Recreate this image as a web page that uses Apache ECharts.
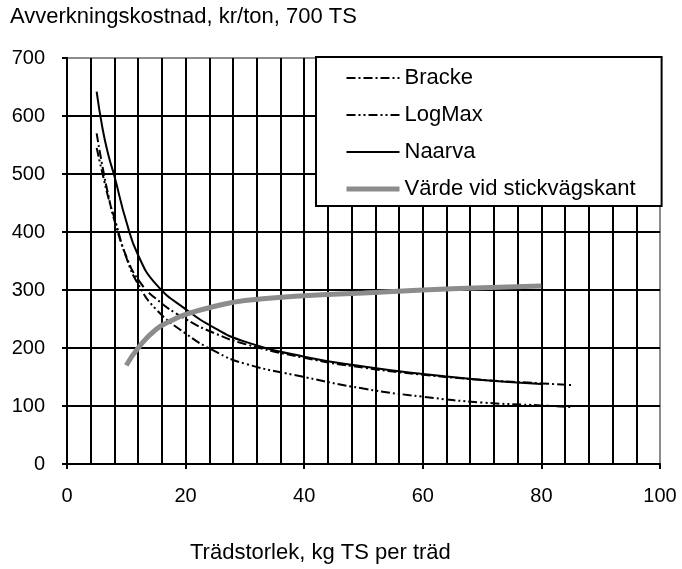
<!DOCTYPE html>
<html>
<head>
<meta charset="utf-8">
<script src="https://cdn.jsdelivr.net/npm/echarts@6/dist/echarts.min.js"></script>
<style>
  html, body { margin: 0; padding: 0; background: #fff; }
  #chart { width: 682px; height: 569px; }
</style>
</head>
<body>
<div id="chart"></div>
<script>
// trädstorlek (kg TS per träd) och kostnad (kr/ton)
var brackeX = [5, 6, 7, 8, 10, 12, 15, 20, 25, 30, 40, 50, 60, 70, 80, 85];
var brackeY = [570, 512, 462, 420, 358, 318, 285, 250, 225, 207, 183, 166, 154, 145, 139, 136];

var logmaxX = [5, 6, 7, 8, 10, 12, 15, 20, 25, 30, 40, 50, 60, 70, 80, 85];
var logmaxY = [545, 500, 458, 424, 356, 310, 267, 225, 194, 173, 150, 130, 116, 106, 101, 98];

var naarvaX = [5, 6, 7, 8, 10, 12, 15, 20, 25, 30, 40, 50, 60, 70, 80];
var naarvaY = [642, 578, 532, 496, 418, 360, 310, 267, 234, 211, 185, 168, 155, 145, 138];

var vardeX = [10, 12, 15, 18, 20, 25, 30, 40, 50, 60, 70, 80];
var vardeY = [170, 200, 232, 249, 258, 272, 282, 290, 295, 300, 304, 307];

var FONT = 'Liberation Sans, Arial, sans-serif';

function pairs(xs, ys) {
  var out = [];
  for (var i = 0; i < xs.length; i++) out.push([xs[i], ys[i]]);
  return out;
}

var chart = echarts.init(document.getElementById('chart'));

chart.setOption({
  backgroundColor: '#fff',
  animation: false,
  title: {
    text: 'Avverkningskostnad, kr/ton, 700 TS',
    left: 10,
    top: 6,
    padding: 0,
    textStyle: { fontFamily: FONT, fontSize: 22, fontWeight: 'normal', color: '#000' }
  },
  graphic: [{
    type: 'text',
    left: 190,
    top: 542,
    style: { text: 'Trädstorlek, kg TS per träd', font: '22px ' + FONT, fill: '#000' }
  }],
  legend: {
    orient: 'vertical',
    left: 316,
    top: 57,
    itemWidth: 53,
    itemHeight: 14,
    itemGap: 15,
    padding: [10, 26, 6, 28],
    borderColor: '#000',
    borderWidth: 2,
    borderRadius: 0,
    backgroundColor: '#fff',
    itemStyle: { opacity: 0 },
    textStyle: { fontFamily: FONT, fontSize: 22, color: '#000' },
    data: [
      { name: 'Bracke', lineStyle: { width: 2 } },
      { name: 'LogMax', lineStyle: { width: 2 } },
      { name: 'Naarva', lineStyle: { width: 2 } },
      { name: 'Värde vid stickvägskant', lineStyle: { width: 5 } }
    ]
  },
  grid: {
    left: 67,
    right: 22,
    top: 58,
    bottom: 105,
    show: true,
    borderColor: '#8c8c8c',
    borderWidth: 2
  },
  xAxis: {
    type: 'value',
    min: 0,
    max: 100,
    interval: 20,
    axisLine: { lineStyle: { color: '#000', width: 2 } },
    axisTick: { show: true, length: 5, lineStyle: { color: '#000', width: 2 } },
    axisLabel: { fontFamily: FONT, fontSize: 20, color: '#000', margin: 22 },
    splitLine: { show: true, showMaxLine: false, lineStyle: { color: '#000', width: 2 } },
    minorTick: { show: false, splitNumber: 5 },
    minorSplitLine: { show: true, lineStyle: { color: '#000', width: 2 } }
  },
  yAxis: {
    type: 'value',
    min: 0,
    max: 700,
    interval: 100,
    axisLine: { show: true, lineStyle: { color: '#000', width: 2 } },
    axisTick: { show: true, length: 5, lineStyle: { color: '#000', width: 2 } },
    axisLabel: { fontFamily: FONT, fontSize: 20, color: '#000', margin: 22 },
    splitLine: { show: true, showMaxLine: false, lineStyle: { color: '#000', width: 2 } }
  },
  series: [
    {
      name: 'Bracke',
      type: 'line',
      smooth: true,
      symbol: 'none',
      lineStyle: { color: '#000', width: 2, type: [9, 3, 2, 3] },
      data: pairs(brackeX, brackeY)
    },
    {
      name: 'LogMax',
      type: 'line',
      smooth: true,
      symbol: 'none',
      lineStyle: { color: '#000', width: 2, type: [9, 3, 2, 3, 2, 3] },
      data: pairs(logmaxX, logmaxY)
    },
    {
      name: 'Naarva',
      type: 'line',
      smooth: true,
      symbol: 'none',
      lineStyle: { color: '#000', width: 2 },
      data: pairs(naarvaX, naarvaY)
    },
    {
      name: 'Värde vid stickvägskant',
      type: 'line',
      smooth: true,
      symbol: 'none',
      lineStyle: { color: '#8c8c8c', width: 5 },
      data: pairs(vardeX, vardeY)
    }
  ]
});
</script>
</body>
</html>
